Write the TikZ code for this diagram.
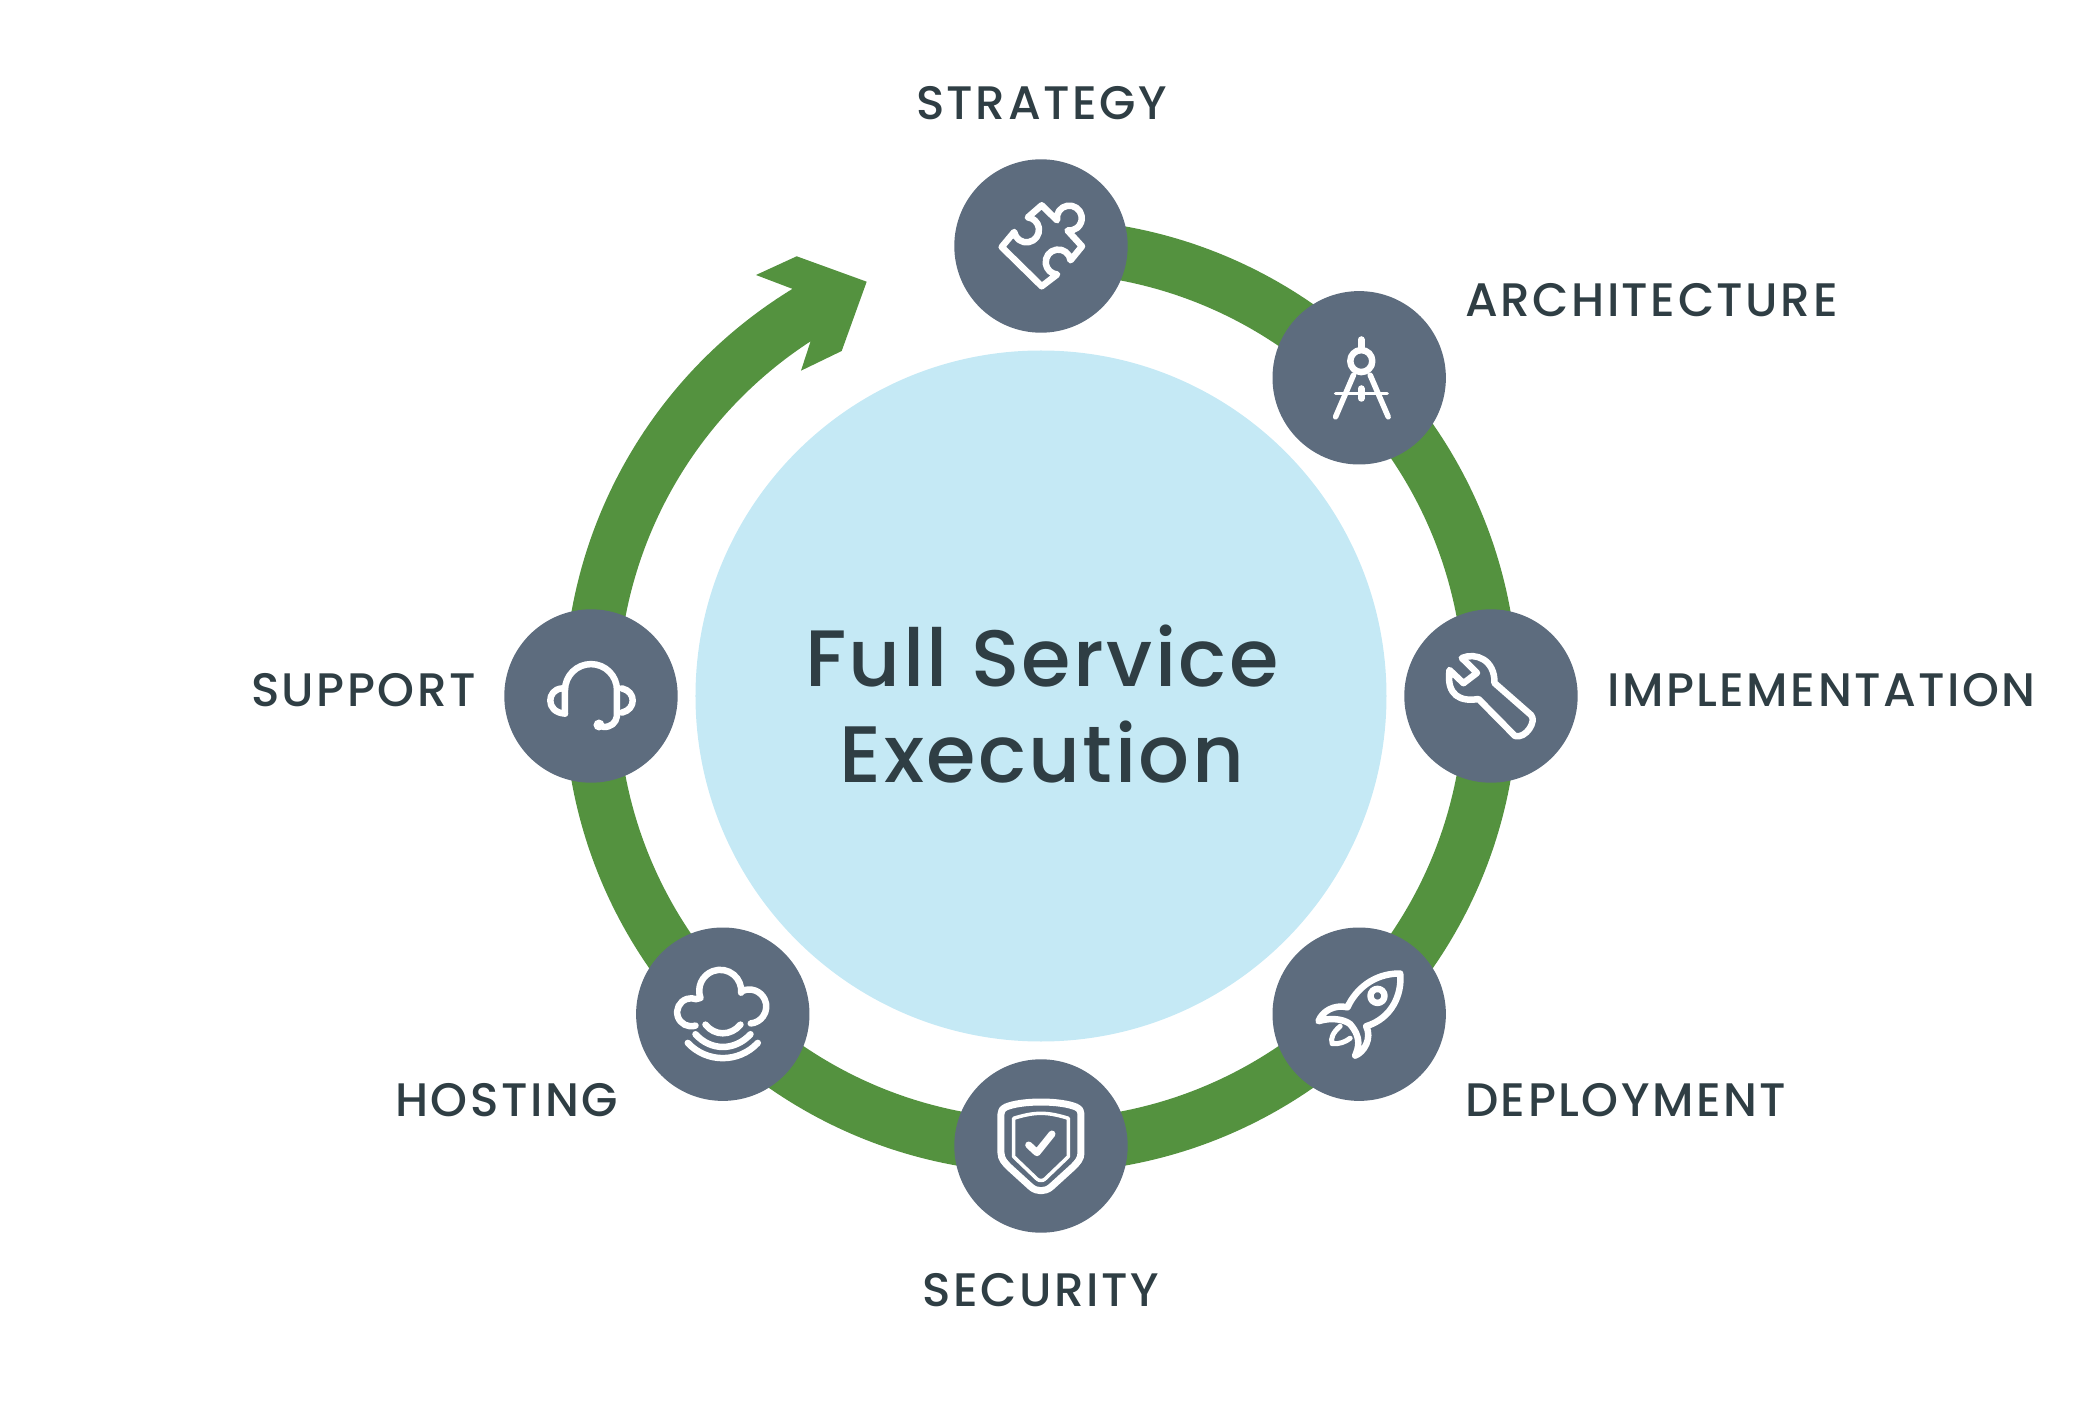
\documentclass[tikz,border=0pt]{standalone}
\usepackage{fontspec}
\setmainfont{Poppins}[UprightFont=* Medium,LetterSpace=5.3]
\newfontfamily\titlefont{Poppins}[UprightFont=* Medium,LetterSpace=3]
\usetikzlibrary{backgrounds}
\definecolor{ringgreen}{HTML}{54923F}
\definecolor{slate}{HTML}{5D6C7E}
\definecolor{paleblue}{HTML}{C5E9F5}
\definecolor{ink}{HTML}{2F3E44}
\tikzset{
  hub/.style={circle,fill=slate,minimum size=173.4pt,inner sep=0pt},
  core/.style={circle,fill=paleblue,minimum size=691pt,inner sep=0pt},
  lab/.style={text=ink,font=\fontsize{47}{50}\selectfont,inner sep=0pt,anchor=base},
  ttl/.style={text=ink,font=\titlefont\fontsize{80}{97}\selectfont,inner sep=0pt,anchor=base},
  ico/.style={draw=white,line width=6.5pt,line cap=round,line join=round},
  ring/.style={draw=ringgreen,line width=54pt}
}
\begin{document}
\begin{tikzpicture}[x=1pt,y=1pt]
\useasboundingbox (-1041,-712) rectangle (1042,696);
\node[core] (centre) at (0,0) {};
\node[ttl] (t1) at (1,9.6) {Full Service};
\node[ttl] (t2) at (1,-86.5) {Execution};
\node[hub] (strategy) at (90:450) {};
\node[hub] (architecture) at (45:450) {};
\node[hub] (implementation) at (0:450) {};
\node[hub] (deployment) at (-45:450) {};
\node[hub] (security) at (-90:450) {};
\node[hub] (hosting) at (-135:450) {};
\node[hub] (support) at (180:450) {};
\begin{scope}[on background layer]
\draw[ring] (strategy.center) arc[start angle=90,end angle=-180,radius=450pt];
\fill[ringgreen] (180:477) arc[start angle=180,end angle=121.4,radius=477pt]
  -- (-285,421) -- (-244.3,439.7) -- (-174.3,414.3) -- (-199.3,345) -- (-240,325.3) -- (-230.4,354.7)
  arc[start angle=123,end angle=180,radius=423pt] -- cycle;
\end{scope}
% labels
\node[lab] (l1) at (0.5,576.5) {STRATEGY};
\node[lab,anchor=base west] (l2) at (424,379.5) {ARCHITECTURE};
\node[lab,anchor=base west] (l3) at (566,-11) {IMPLEMENTATION};
\node[lab,anchor=base west] (l4) at (424,-420.5) {DEPLOYMENT};
\node[lab] (l5) at (0,-610.5) {SECURITY};
\node[lab,anchor=base east] (l6) at (-423,-420.5) {HOSTING};
\node[lab,anchor=base east] (l7) at (-565,-11) {SUPPORT};
% puzzle
\begin{scope}[shift={(strategy.center)}]
\draw[ico] (-39.3,-1) -- (-26.8,14)
  arc[start angle=190,end angle=444,radius=12.5pt] -- (0.7,40.7) -- (16,25.7)
  arc[start angle=190,end angle=-98,radius=12.5pt] -- (41,-0.3) -- (29.6,-14.3)
  arc[start angle=8,end angle=265,radius=12.5pt] -- (0.7,-40.3) -- cycle;
\end{scope}
% compass
\begin{scope}[shift={(architecture.center)}]
\draw[ico] (2.1,16.7) circle[radius=11pt];
\draw[ico] (2.1,38.3) -- (2.1,29.3);
\draw[ico,line width=5.5pt] (-5.7,2.7) -- (-23.6,-39);
\draw[ico,line width=5.5pt] (11,2.7) -- (29,-39);
\draw[ico,line width=3.5pt] (-23.6,-15.7) -- (28,-15.7);
\draw[ico] (2.1,-10.7) -- (2.1,-20.7);
\end{scope}
% wrench
\begin{scope}[shift={(implementation.center)}]
\draw[ico] (-29.2,38) .. controls (-15,44) and (4,36) .. (3.5,13) -- (40,-19)
  .. controls (46,-25) and (35,-43) .. (24,-40) -- (-12.5,-3)
  .. controls (-30,-6) and (-45,0) .. (-41.5,26) -- (-27.5,12.8) -- (-14,23.1) -- cycle;
\end{scope}
% rocket
\begin{scope}[shift={(deployment.center)}]
\draw[ico] (-11.7,6.9) .. controls (-4,24) and (14,41) .. (41,40.7)
  .. controls (43,20) and (33,-4) .. (7,-12)
  .. controls (13,-24) and (5,-38) .. (-4,-41.4)
  .. controls (-1,-34) and (3,-24) .. (-9,-10)
  .. controls (-15,-5) and (-28,-3) .. (-40.7,-7)
  .. controls (-37,3) and (-25,10) .. (-11.7,6.9) -- cycle;
\draw[ico] (18.3,18.3) circle[radius=7pt];
\draw[ico,line width=5pt] (-19,-12) .. controls (-26,-18) and (-29,-24) .. (-27,-29.5)
  .. controls (-20,-30) and (-14,-28) .. (-9,-24);
\end{scope}
% shield
\begin{scope}[shift={(security.center)}]
\draw[ico,line width=7pt] (0,44) .. controls (-15,44) and (-28,42) .. (-35,39) .. controls (-39,37) and (-40,35) .. (-40,32)
  -- (-40,-7) .. controls (-40,-13) and (-36,-17) .. (-32,-21)
  -- (-10,-41) .. controls (-4,-46) and (4,-46) .. (10,-41)
  -- (32,-21) .. controls (36,-17) and (40,-13) .. (40,-7) -- (40,32)
  .. controls (40,35) and (39,37) .. (35,39) .. controls (28,42) and (15,44) .. (0,44) -- cycle;
\draw[ico,line width=3.5pt] (0,32.7) .. controls (-10,32.7) and (-20,30) .. (-27.3,27.7) -- (-27.3,-10.7)
  -- (-4,-33) .. controls (-2,-35) and (2,-35) .. (4,-33) -- (27.3,-10.7) -- (27.3,27.7)
  .. controls (20,30) and (10,32.7) .. (0,32.7) -- cycle;
\draw[ico,line width=7pt] (-12.3,1) -- (-4,-6.7) -- (11,12);
\end{scope}
% cloud
\begin{scope}[shift={(hosting.center)}]
\draw[ico] (-27.3,-11.4) arc[start angle=-72,end angle=-290,radius=14pt] -- (-22.3,16.2)
  arc[start angle=200,end angle=-5,radius=21pt] -- (19.3,23.1)
  arc[start angle=115,end angle=-85,radius=17pt];
\draw[ico] (-17.3,-10.4) .. controls (-8,-22) and (8,-22) .. (17.7,-10.4);
\draw[ico] (-27.3,-20) .. controls (-12,-37) and (12,-37) .. (27.7,-20);
\draw[ico] (-35,-28.7) .. controls (-16,-49) and (16,-49) .. (35,-28.7);
\end{scope}
% headset
\begin{scope}[shift={(support.center)}]
\draw[ico] (-26,-17.6) -- (-26,5.9) arc[start angle=180,end angle=0,radius=26pt] -- (26,-20)
  .. controls (25,-27) and (20,-31) .. (12.7,-31) -- (7.7,-28.7);
\fill[white] (8,-29) circle[radius=5.5pt];
\draw[ico] (-29,7.6) .. controls (-37,7) and (-40.7,1) .. (-40.7,-4.5) .. controls (-40.7,-11) and (-36,-17) .. (-26,-17.6);
\draw[ico] (31,7.6) .. controls (38,6) and (41.7,1) .. (41.7,-4.5) .. controls (41.7,-10) and (38,-15) .. (31,-16.6);
\end{scope}
\end{tikzpicture}
\end{document}
